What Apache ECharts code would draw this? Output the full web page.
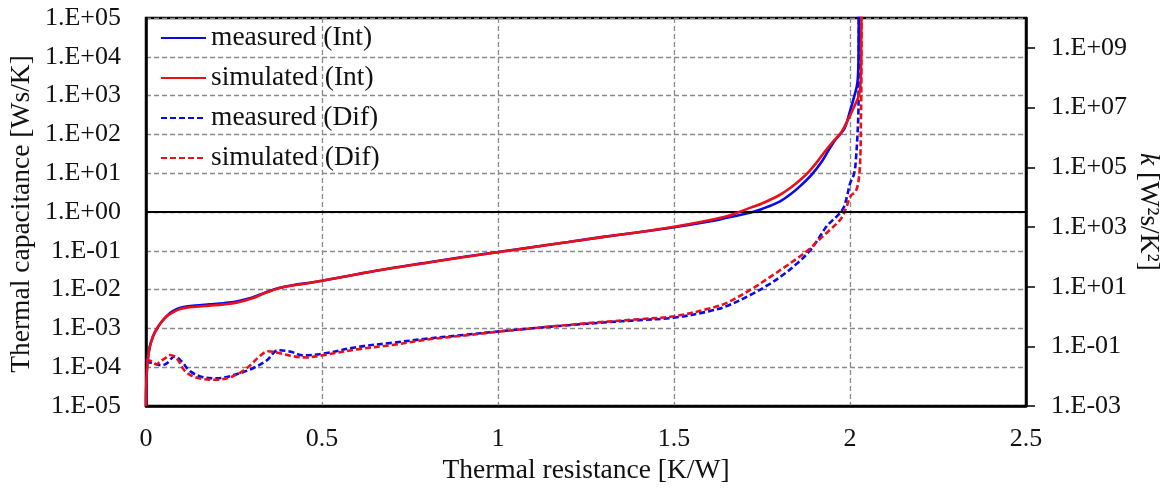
<!DOCTYPE html>
<html>
<head>
<meta charset="utf-8">
<script src="https://cdn.jsdelivr.net/npm/echarts@6/dist/echarts.min.js"></script>
<style>
  html, body { margin: 0; padding: 0; background: #fff; }
  #chart { width: 1171px; height: 490px; }
</style>
</head>
<body>
<div id="chart"></div>
<script>
// Structure functions: cumulative (Int) on the left axis, differential (Dif) on the right axis.
const leftTicks = [1e-5, 1e-4, 1e-3, 1e-2, 1e-1, 1e0, 1e1, 1e2, 1e3, 1e4, 1e5];
const rightTicks = [1e-3, 1e-1, 1e1, 1e3, 1e5, 1e7, 1e9];

// Thermal resistance [K/W] and cumulative thermal capacitance [Ws/K]
const measIntR = [0, 0.001, 0.004, 0.01, 0.02, 0.03, 0.045, 0.06, 0.075, 0.09, 0.11, 0.14, 0.18, 0.22, 0.26, 0.3, 0.34, 0.38, 0.42, 0.46,
  0.5, 0.6, 0.7, 0.8, 0.9, 1.0, 1.1, 1.2, 1.3, 1.4, 1.5, 1.6, 1.65, 1.7, 1.724, 1.75, 1.8, 1.83, 1.86, 1.89, 1.92, 1.941, 1.96, 1.984, 2.0, 2.012, 2.021, 2.024, 2.025];
const measIntC = [1e-5, 3.98e-5, 1.26e-4, 3.16e-4, 6.31e-4, 9.55e-4, 1.51e-3, 2.14e-3, 2.75e-3, 3.24e-3, 3.63e-3, 3.89e-3, 4.17e-3, 4.47e-3, 5.01e-3, 6.17e-3, 8.51e-3, 1.12e-2, 1.32e-2, 1.48e-2,
  1.7e-2, 2.51e-2, 3.63e-2, 5.0e-2, 6.92e-2, 9.33e-2, 0.126, 0.17, 0.229, 0.302, 0.407, 0.575, 0.71, 0.89, 1.0, 1.2, 1.86, 2.82, 4.79, 8.9, 20, 41.7, 75.9, 141, 398, 955, 2140, 7940, 3.2e5];

const simIntR = [0, 0.001, 0.004, 0.01, 0.02, 0.03, 0.045, 0.06, 0.075, 0.09, 0.11, 0.14, 0.18, 0.22, 0.26, 0.3, 0.34, 0.38, 0.42, 0.46,
  0.5, 0.6, 0.7, 0.8, 0.9, 1.0, 1.1, 1.2, 1.3, 1.4, 1.5, 1.6, 1.65, 1.685, 1.72, 1.75, 1.8, 1.83, 1.86, 1.884, 1.91, 1.932, 1.955, 1.975, 1.998, 2.012, 2.026, 2.031, 2.032, 2.033];
const simIntC = [1e-5, 3.98e-5, 1.26e-4, 3.16e-4, 6.31e-4, 9.55e-4, 1.51e-3, 2.1e-3, 2.57e-3, 3.02e-3, 3.39e-3, 3.63e-3, 3.89e-3, 4.17e-3, 4.68e-3, 5.89e-3, 8.32e-3, 1.1e-2, 1.3e-2, 1.47e-2,
  1.69e-2, 2.5e-2, 3.6e-2, 4.95e-2, 6.85e-2, 9.2e-2, 0.125, 0.169, 0.229, 0.302, 0.417, 0.617, 0.776, 1.0, 1.32, 1.66, 2.75, 4.17, 6.92, 11.2, 21.4, 39.8, 70.8, 112, 282, 525, 1070, 3160, 3.16e4, 3.2e5];

// Thermal resistance [K/W] and differential structure function k [W²s/K²]
const measDifR = [0, 0.02, 0.045, 0.059, 0.082, 0.101, 0.125, 0.162, 0.2, 0.247, 0.304, 0.343, 0.375, 0.409, 0.446,
  0.5, 0.6, 0.7, 0.8, 0.9, 1.0, 1.1, 1.2, 1.3, 1.4, 1.5, 1.6, 1.65, 1.72, 1.77, 1.81, 1.85, 1.884, 1.91, 1.932, 1.95, 1.968, 1.982, 1.992, 2.0, 2.012, 2.017, 2.021, 2.024, 2.025];
const measDifK = [3.16e-2, 2.69e-2, 2.34e-2, 2.69e-2, 4.68e-2, 3.16e-2, 1.48e-2, 9.3e-3, 8.5e-3, 1.07e-2, 1.86e-2, 3.39e-2, 7.4e-2, 6.76e-2, 5.0e-2,
  5.62e-2, 9.55e-2, 0.132, 0.182, 0.24, 0.316, 0.407, 0.513, 0.631, 0.759, 0.912, 1.51, 2.24, 5.5, 12, 25.1, 60.3, 151, 398, 1000, 1660, 2630, 4470, 1.12e4, 2.82e4, 6.31e4, 2.0e5, 1.1e6, 8.5e6, 3.2e10];

const simDifR = [0, 0.016, 0.03, 0.04, 0.054, 0.068, 0.087, 0.111, 0.145, 0.2, 0.247, 0.286, 0.323, 0.346, 0.38, 0.417, 0.456,
  0.5, 0.6, 0.7, 0.8, 0.9, 1.0, 1.1, 1.2, 1.3, 1.4, 1.5, 1.6, 1.65, 1.72, 1.77, 1.81, 1.85, 1.884, 1.91, 1.941, 1.974, 1.988, 2.002, 2.017, 2.026, 2.03, 2.031, 2.032, 2.033];
const simDifK = [3.47e-2, 3.16e-2, 2.51e-2, 3.16e-2, 3.98e-2, 5.13e-2, 3.98e-2, 1.48e-2, 8.9e-3, 7.6e-3, 1.0e-2, 1.86e-2, 4.68e-2, 6.9e-2, 5.9e-2, 4.68e-2, 4.27e-2,
  5.01e-2, 7.94e-2, 0.112, 0.17, 0.229, 0.309, 0.407, 0.525, 0.661, 0.813, 1.02, 1.86, 2.88, 8.32, 20, 41.7, 89.1, 178, 355, 759, 1860, 3980, 1.1e4, 1.62e4, 5.13e4, 3.98e5, 3.98e6, 2.51e7, 3.2e10];

const names = ['measured (Int)', 'simulated (Int)', 'measured (Dif)', 'simulated (Dif)'];

const BLUE = '#0a0ae8';
const RED = '#ec1016';
const FONT = 'Liberation Serif';
const TXT = '#111';

function pairs(xs, ys) { return xs.map((x, i) => [x, ys[i]]); }
function sci(v) {
  const e = Math.round(Math.log10(v));
  return '1.E' + (e < 0 ? '-' : '+') + String(Math.abs(e)).padStart(2, '0');
}

const gridDash = { color: '#8a8a8a', width: 1.3, type: [5, 3] };

function lineSeries(name, axis, z, xs, ys, color, dashed) {
  return {
    name, type: 'line', yAxisIndex: axis, z,
    data: pairs(xs, ys), showSymbol: false, symbol: 'none',
    smooth: 0.35,
    lineStyle: { color, width: 2.6, type: dashed ? [6, 3] : 'solid' },
    itemStyle: { color }
  };
}

const sMeasInt = lineSeries(names[0], 0, 4, measIntR, measIntC, BLUE, false);
sMeasInt.markLine = {
  silent: true, symbol: ['none', 'none'], label: { show: false },
  lineStyle: { color: '#000', type: 'solid', width: 2 },
  data: [{ yAxis: 1 }]
};

const chart = echarts.init(document.getElementById('chart'), null, { renderer: 'canvas' });
chart.setOption({
  animation: false,
  backgroundColor: '#fff',
  textStyle: { fontFamily: FONT, color: TXT },
  grid: { left: 146, right: 145, top: 18, bottom: 82, show: true, borderColor: '#000', borderWidth: 2.5, backgroundColor: 'transparent' },
  legend: {
    data: names,
    orient: 'vertical',
    left: 160,
    top: 24,
    padding: 0,
    itemWidth: 45,
    itemHeight: 14,
    itemGap: 12,
    itemStyle: { opacity: 0 },
    textStyle: { fontFamily: FONT, fontSize: 27.5, color: TXT, lineHeight: 27 },
    selectedMode: false
  },
  xAxis: {
    type: 'value', min: 0, max: 2.5, interval: 0.5,
    name: 'Thermal resistance [K/W]', nameLocation: 'middle', nameGap: 48,
    nameTextStyle: { fontFamily: FONT, fontSize: 27.5, color: TXT },
    axisLine: { show: true, lineStyle: { color: '#000', width: 2.5 } },
    axisTick: { show: false },
    axisLabel: { fontFamily: FONT, fontSize: 26, color: TXT, margin: 20 },
    splitLine: { show: true, lineStyle: gridDash }
  },
  yAxis: [
    {
      type: 'log', logBase: 10, min: 1e-5, max: 1e5,
      axisLine: { show: true, onZero: false, lineStyle: { color: '#000', width: 2.5 } },
      axisTick: { show: false, customValues: leftTicks },
      axisLabel: { fontFamily: FONT, fontSize: 26, color: TXT, margin: 25, formatter: sci, customValues: leftTicks },
      splitLine: { show: true, lineStyle: gridDash }
    },
    {
      type: 'log', logBase: 10, min: 1e-3, max: 1e10, position: 'right',
      axisLine: { show: true, onZero: false, lineStyle: { color: '#000', width: 2.5 } },
      axisTick: { show: true, inside: false, length: 9, lineStyle: { color: '#000', width: 1.5 }, customValues: rightTicks },
      axisLabel: { fontFamily: FONT, fontSize: 26, color: TXT, margin: 25, formatter: sci, customValues: rightTicks },
      splitLine: { show: false }
    }
  ],
  graphic: [
    {
      type: 'text', x: 22, y: 214, rotation: Math.PI / 2,
      style: { text: 'Thermal capacitance [Ws/K]', font: '27.5px "Liberation Serif"', fill: TXT, align: 'center', verticalAlign: 'middle' }
    },
    {
      type: 'text', x: 1148, y: 212, rotation: -Math.PI / 2,
      style: {
        text: '{i|k} [W²s/K²]', fill: TXT, align: 'center', verticalAlign: 'middle',
        font: '27.5px "Liberation Serif"',
        rich: { i: { fontStyle: 'italic', fontFamily: FONT, fontSize: 27.5, fill: TXT } }
      }
    }
  ],
  series: [
    sMeasInt,
    lineSeries(names[1], 0, 5, simIntR, simIntC, RED, false),
    lineSeries(names[2], 1, 2, measDifR, measDifK, BLUE, true),
    lineSeries(names[3], 1, 3, simDifR, simDifK, RED, true)
  ]
});
</script>
</body>
</html>
